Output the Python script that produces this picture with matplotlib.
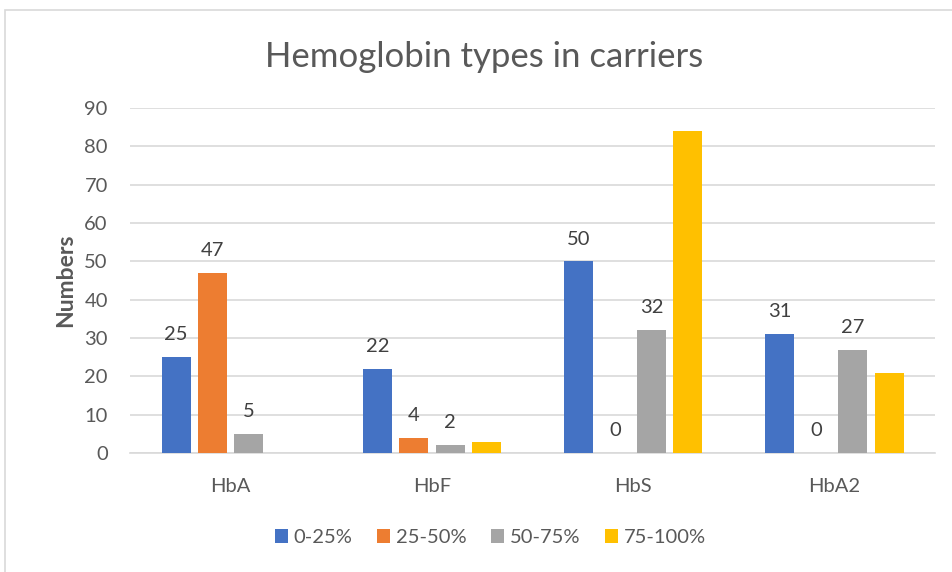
import numpy as np
import matplotlib.pyplot as plt
from matplotlib.patches import Rectangle

categories = ["HbA", "HbF", "HbS", "HbA2"]
series_names = ["0-25%", "25-50%", "50-75%", "75-100%"]
v_0_25 = [25, 22, 50, 31]
v_25_50 = [47, 4, 0, 0]
v_50_75 = [5, 2, 32, 27]
v_75_100 = [np.nan, 3, 84, 21]
colors = ["#4472C4", "#ED7D31", "#A5A5A5", "#FFC000"]
show_labels = [True, True, True, False]

plt.rcParams["font.family"] = ["Lato", "DejaVu Sans"]
txt = "#595959"

fig = plt.figure(figsize=(9.52, 5.72), dpi=100)
ax = fig.add_axes([0.1366, 0.208, 0.8456, 0.603])

x = np.arange(len(categories))
step = 0.181
width = 0.144
for i, (name, vals) in enumerate(zip(series_names, [v_0_25, v_25_50, v_50_75, v_75_100])):
    pos = x + (i - 1.5) * step
    ax.bar(pos, vals, width, color=colors[i], label=name, zorder=3)
    if show_labels[i]:
        for p, v in zip(pos, vals):
            if not np.isnan(v):
                ax.annotate(f"{v:g}", (p, v), xytext=(0, 10), textcoords="offset points",
                            ha="center", va="bottom", fontsize=14.5, color="#404040")

ax.set_xlim(-0.5, 3.5)
ax.set_ylim(0, 90)
ax.set_yticks(range(0, 91, 10))
ax.set_xticks(x)
ax.set_xticklabels(categories)
ax.tick_params(axis="both", length=0, labelsize=14.5, colors=txt)
ax.tick_params(axis="x", pad=18)
ax.tick_params(axis="y", pad=16)
ax.grid(axis="y", color="#D9D9D9", linewidth=1.2, zorder=0)
for s in ["top", "right", "left"]:
    ax.spines[s].set_visible(False)
ax.spines["bottom"].set_color("#D9D9D9")
ax.spines["bottom"].set_linewidth(1.2)

ax.set_ylabel("Numbers", fontsize=16.5, fontweight="bold", color=txt, labelpad=6)
fig.text(0.509, 0.9, "Hemoglobin types in carriers", ha="center", va="center",
         fontsize=25, color=txt)

leg = fig.legend(loc="center", bbox_to_anchor=(0.515, 0.06), ncol=4, frameon=False,
                 fontsize=14.5, handlelength=0.65, handleheight=0.65, handletextpad=0.3,
                 columnspacing=1.2)
for t in leg.get_texts():
    t.set_color(txt)

fig.patches.append(Rectangle((5 / 952, -0.1), 1.2, 1 - 10 / 572 + 0.1, transform=fig.transFigure,
                             fill=False, edgecolor="#D9D9D9", linewidth=1.2))

fig.savefig("out.png", dpi=100)
